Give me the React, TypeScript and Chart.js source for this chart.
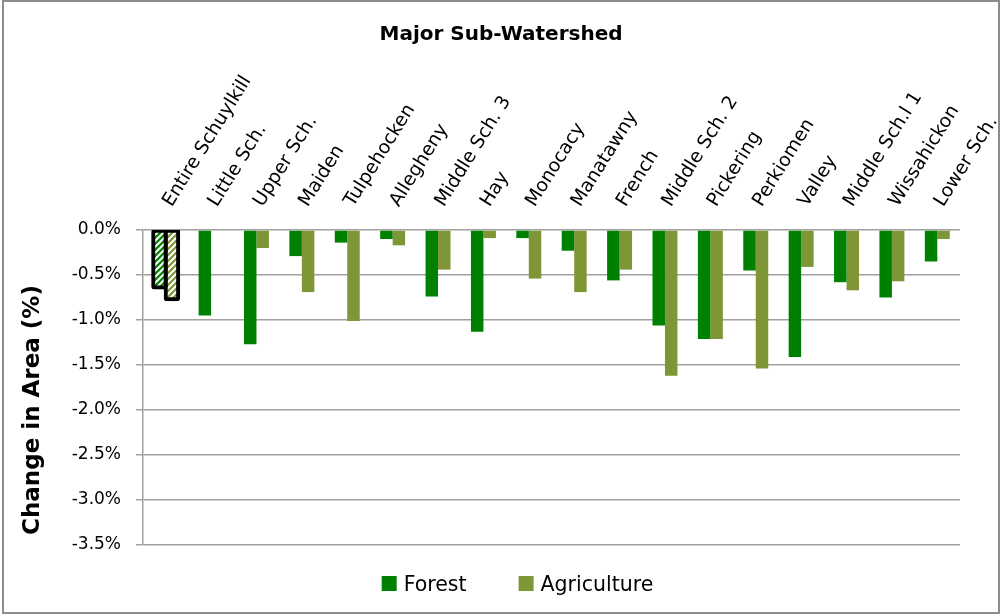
import React, { useEffect, useRef } from 'react';
import { Chart, registerables } from 'chart.js';

Chart.register(...registerables);

const categories = [
  'Entire Schuylkill', 'Little Sch.', 'Upper Sch.', 'Maiden', 'Tulpehocken', 'Allegheny',
  'Middle Sch. 3', 'Hay', 'Monocacy', 'Manatawny', 'French', 'Middle Sch. 2',
  'Pickering', 'Perkiomen', 'Valley', 'Middle Sch.l 1', 'Wissahickon', 'Lower Sch.',
];
const forest = [-0.64, -0.95, -1.27, -0.29, -0.14, -0.10, -0.74, -1.13, -0.09, -0.23, -0.56, -1.06, -1.21, -0.45, -1.41, -0.58, -0.75, -0.35];
const agriculture = [-0.77, 0.02, -0.20, -0.69, -1.01, -0.17, -0.44, -0.09, -0.54, -0.69, -0.44, -1.62, -1.21, -1.54, -0.41, -0.67, -0.57, -0.10];
const yMin = -3.5;
const yMax = 0;
const yStep = 0.5;
const yTitle = 'Change in Area (%)';

const FOREST_COLOR = '#008000';
const AG_COLOR = '#7e9636';
const GRID = '#a0a0a0';
const FONT = '"DejaVu Sans", sans-serif';

function makeHatch(color: string): CanvasPattern | string {
  const c = document.createElement('canvas');
  c.width = 6;
  c.height = 6;
  const g = c.getContext('2d');
  if (!g) return color;
  g.fillStyle = color;
  g.fillRect(0, 0, 6, 6);
  g.strokeStyle = '#ffffff';
  g.lineWidth = 2;
  g.beginPath();
  g.moveTo(-1, 7); g.lineTo(7, -1);
  g.moveTo(-4, 4); g.lineTo(4, -4);
  g.moveTo(2, 10); g.lineTo(10, 2);
  g.stroke();
  const p = g.createPattern(c, 'repeat');
  return p || color;
}

const framePlugin = {
  id: 'frame',
  beforeDraw(chart: any) {
    const ctx = chart.ctx;
    ctx.save();
    ctx.fillStyle = '#ffffff';
    ctx.fillRect(0, 0, chart.width, chart.height);
    ctx.strokeStyle = '#8c8c8c';
    ctx.lineWidth = 2;
    ctx.strokeRect(3, 1, 996, 612);
    ctx.restore();
  },
};

const yTitlePlugin = {
  id: 'yTitle',
  afterDraw(chart: any) {
    const ctx = chart.ctx;
    ctx.save();
    ctx.translate(33, 410);
    ctx.rotate(-Math.PI / 2);
    ctx.font = 'bold 23px ' + FONT;
    ctx.fillStyle = '#000000';
    ctx.textAlign = 'center';
    ctx.textBaseline = 'middle';
    ctx.fillText(yTitle, 0, 0);
    ctx.restore();
  },
};

const legendPlugin = {
  id: 'manualLegend',
  afterDraw(chart: any) {
    const ctx = chart.ctx;
    ctx.save();
    ctx.font = '20.5px ' + FONT;
    const items = chart.data.datasets.map((ds: any) => ({ text: ds.label, color: ds.legendColor }));
    const box = 15;
    const gapText = 7;
    const gapItems = 52;
    const widths = items.map((it: any) => box + gapText + ctx.measureText(it.text).width);
    const total = widths.reduce((a: number, b: number) => a + b, 0) + gapItems * (items.length - 1);
    let x = 517.5 - total / 2;
    const baseY = 591;
    items.forEach((it: any, i: number) => {
      ctx.fillStyle = it.color;
      ctx.fillRect(x, baseY - box, box, box);
      ctx.fillStyle = '#000000';
      ctx.textBaseline = 'alphabetic';
      ctx.textAlign = 'left';
      ctx.fillText(it.text, x + box + gapText, baseY);
      x += widths[i] + gapItems;
    });
    ctx.restore();
  },
};

export default function App() {
  const ref = useRef<HTMLCanvasElement | null>(null);

  useEffect(() => {
    if (!ref.current) return;
    const forestHatch = makeHatch(FOREST_COLOR);
    const agHatch = makeHatch(AG_COLOR);
    const titleSize = 20;
    const titlePadTop = 23;
    const titleH = titlePadTop + titleSize * 1.2;

    const chart = new Chart(ref.current, {
      type: 'bar',
      data: {
        labels: categories,
        datasets: [
          {
            label: 'Forest',
            data: forest,
            legendColor: FOREST_COLOR,
            backgroundColor: (c: any) => (c.dataIndex === 0 ? forestHatch : FOREST_COLOR),
            borderColor: (c: any) => (c.dataIndex === 0 ? '#000000' : FOREST_COLOR),
            borderWidth: (c: any) => (c.dataIndex === 0 ? 4 : 0),
            borderRadius: (c: any) => (c.dataIndex === 0 ? 3 : 0),
            borderSkipped: false,
            inflateAmount: (c: any) => (c.dataIndex === 0 ? 2 : 'auto'),
          } as any,
          {
            label: 'Agriculture',
            data: agriculture,
            legendColor: AG_COLOR,
            backgroundColor: (c: any) => (c.dataIndex === 0 ? agHatch : AG_COLOR),
            borderColor: (c: any) => (c.dataIndex === 0 ? '#000000' : AG_COLOR),
            borderWidth: (c: any) => (c.dataIndex === 0 ? 4 : 0),
            borderRadius: (c: any) => (c.dataIndex === 0 ? 3 : 0),
            borderSkipped: false,
            inflateAmount: (c: any) => (c.dataIndex === 0 ? 2 : 'auto'),
          } as any,
        ],
      },
      options: {
        animation: false,
        responsive: false,
        maintainAspectRatio: false,
        layout: { padding: { left: 0, right: 0, top: 0, bottom: 70 } },
        datasets: { bar: { categoryPercentage: 0.55, barPercentage: 1 } },
        plugins: {
          legend: { display: false },
          tooltip: { enabled: false },
          title: {
            display: true,
            text: 'Major Sub-Watershed',
            color: '#000000',
            font: { family: FONT, size: titleSize, weight: 'bold', lineHeight: 1.2 },
            padding: { top: titlePadTop, bottom: 0 },
          },
        },
        scales: {
          x: {
            position: 'top',
            grid: { display: false, drawTicks: false },
            border: { display: false },
            ticks: {
              autoSkip: false,
              minRotation: 58,
              maxRotation: 58,
              padding: 19,
              labelOffset: 21,
              color: '#000000',
              font: { family: FONT, size: 18.8 },
            },
            afterFit: (s: any) => {
              s.height = 230 - titleH;
              s.paddingLeft = 0;
              s.paddingRight = 0;
            },
          },
          y: {
            min: yMin,
            max: yMax,
            grid: { color: GRID, lineWidth: 1.5, tickLength: 7, drawTicks: true },
            border: { display: true, color: GRID, width: 1.5 },
            ticks: {
              stepSize: yStep,
              padding: 15,
              color: '#000000',
              font: { family: FONT, size: 17 },
              callback: (v: any) => Number(v).toFixed(1) + '%',
            },
            title: { display: false },
            afterFit: (s: any) => {
              s.width = 143;
              s.paddingTop = 0;
              s.paddingBottom = 0;
            },
          },
          yRight: {
            position: 'right',
            display: true,
            grid: { display: false, drawTicks: false },
            border: { display: false },
            ticks: { display: false },
            afterFit: (s: any) => {
              s.width = 42;
              s.paddingTop = 0;
              s.paddingBottom = 0;
            },
          },
        },
      } as any,
      plugins: [framePlugin, yTitlePlugin, legendPlugin],
    });
    return () => chart.destroy();
  }, []);

  return (
    <div style={{ position: 'absolute', left: 0, top: 0, width: 1002, height: 615, background: '#fff' }}>
      <canvas ref={ref} width={1002} height={615} style={{ display: 'block', width: 1002, height: 615 }} />
    </div>
  );
}
